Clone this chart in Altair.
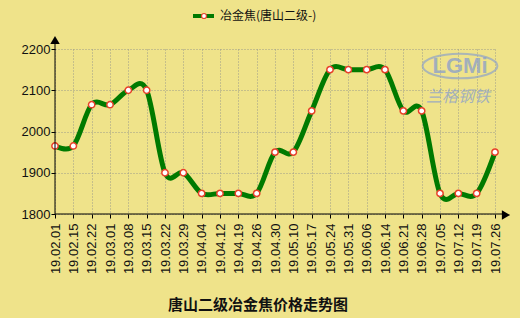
import altair as alt
import pandas as pd

dates = ["19.02.01", "19.02.15", "19.02.22", "19.03.01", "19.03.08", "19.03.15",
         "19.03.22", "19.03.29", "19.04.04", "19.04.12", "19.04.19", "19.04.26",
         "19.04.30", "19.05.10", "19.05.17", "19.05.24", "19.05.31", "19.06.06",
         "19.06.14", "19.06.21", "19.06.28", "19.07.05", "19.07.12", "19.07.19",
         "19.07.26"]
prices = [1965, 1965, 2065, 2065, 2100, 2100,
          1900, 1900, 1850, 1850, 1850, 1850,
          1950, 1950, 2050, 2150, 2150, 2150,
          2150, 2050, 2050, 1850, 1850, 1850,
          1950]
y_ticks = [1800, 1850, 1900, 1950, 2000, 2050, 2100, 2150, 2200]
series_name = "冶金焦(唐山二级-)"
chart_title = "唐山二级冶金焦价格走势图"

df = pd.DataFrame({"date": dates, "price": prices})
one = pd.DataFrame({"k": [0]})

W, H = 440, 165
BG = "#EFE38A"
GREEN = "#007A00"
RED = "#E8402A"
NUMFONT = "Liberation Sans"
CJK = "Noto Sans CJK SC"

x_enc = alt.X("date:O", sort=None,
              scale=alt.Scale(type="point", padding=0),
              axis=alt.Axis(title=None, labelAngle=270, labelFont=NUMFONT,
                            labelFontSize=13, labelColor="#111",
                            tickColor="#000", tickSize=4, labelPadding=5,
                            domain=False, grid=True, gridColor="#9a9a8a",
                            gridDash=[1, 2], labelOverlap=False))
y_enc = alt.Y("price:Q",
              scale=alt.Scale(domain=[1800, 2200], nice=False, zero=False),
              axis=alt.Axis(title=None, values=y_ticks, format="d",
                            labelFont=NUMFONT,
                            labelFontSize=13, labelColor="#111",
                            tickColor="#000", tickSize=4, labelPadding=1,
                            domain=False, grid=True, gridColor="#9a9a8a",
                            gridDash=[1, 2]))

line = alt.Chart(df).mark_line(interpolate="cardinal", color=GREEN,
                               strokeWidth=5).encode(x=x_enc, y=y_enc)
pts = alt.Chart(df).mark_point(filled=True, fill="white", stroke=RED,
                               strokeWidth=1.5, size=40, opacity=1).encode(
    x=alt.X("date:O", sort=None), y="price:Q")

yaxis = alt.Chart(one).mark_rule(color="black", strokeWidth=1).encode(
    x=alt.value(0), y=alt.value(-6), y2=alt.value(H))
xaxis = alt.Chart(one).mark_rule(color="black", strokeWidth=1).encode(
    x=alt.value(0), x2=alt.value(W + 8), y=alt.value(H))
up_arrow = alt.Chart(one).mark_point(shape="triangle-up", filled=True,
                                     color="black", size=90, opacity=1).encode(
    x=alt.value(0), y=alt.value(-9))
right_arrow = alt.Chart(one).mark_point(shape="triangle-right", filled=True,
                                        color="black", size=90, opacity=1).encode(
    x=alt.value(W + 11), y=alt.value(H + 1))

leg_line = alt.Chart(one).mark_rule(color=GREEN, strokeWidth=4).encode(
    x=alt.value(138), x2=alt.value(159), y=alt.value(-33))
leg_pt = alt.Chart(one).mark_point(filled=True, fill="white", stroke=RED,
                                   strokeWidth=1.2, size=25, opacity=1).encode(
    x=alt.value(149), y=alt.value(-33))
leg_txt = alt.Chart(one).mark_text(text=series_name, font=CJK, fontSize=12,
                                   align="left", baseline="middle",
                                   color="#111").encode(
    x=alt.value(165), y=alt.value(-33))

title_txt = alt.Chart(one).mark_text(text=chart_title, font=CJK, fontSize=15,
                                     fontWeight="bold", align="center",
                                     baseline="middle", color="#111").encode(
    x=alt.value(203), y=alt.value(256))

wm1 = alt.Chart(one).mark_text(text="LGMi", font=NUMFONT, fontSize=22,
                               fontWeight="bold", color="#8FA3C8",
                               opacity=0.8, align="center",
                               baseline="middle").encode(
    x=alt.value(405), y=alt.value(17))
wm_ring = alt.Chart(one).mark_point(
    shape="M -1 0 A 1 0.33 0 1 0 1 0 A 1 0.33 0 1 0 -1 0 Z",
    size=5600, stroke="#8FA3C8", strokeWidth=2,
    opacity=0.7, filled=False).encode(
    x=alt.value(405), y=alt.value(17))
wm2 = alt.Chart(one).mark_text(text="兰格钢铁", font=CJK, fontSize=16,
                               color="#8FA3C8", opacity=0.8, align="center",
                               baseline="middle", fontStyle="italic").encode(
    x=alt.value(403), y=alt.value(48))

chart = alt.layer(
    wm_ring, wm1, wm2, line, pts, yaxis, xaxis, up_arrow, right_arrow,
    leg_line, leg_pt, leg_txt, title_txt
).properties(
    width=W, height=H,
    autosize=alt.AutoSizeParams(type="none"),
    padding={"left": 55, "top": 49, "right": 25, "bottom": 104},
    background=BG,
).configure_view(strokeWidth=0)

chart.save("out.html", embed_options={"renderer": "svg", "actions": False})
